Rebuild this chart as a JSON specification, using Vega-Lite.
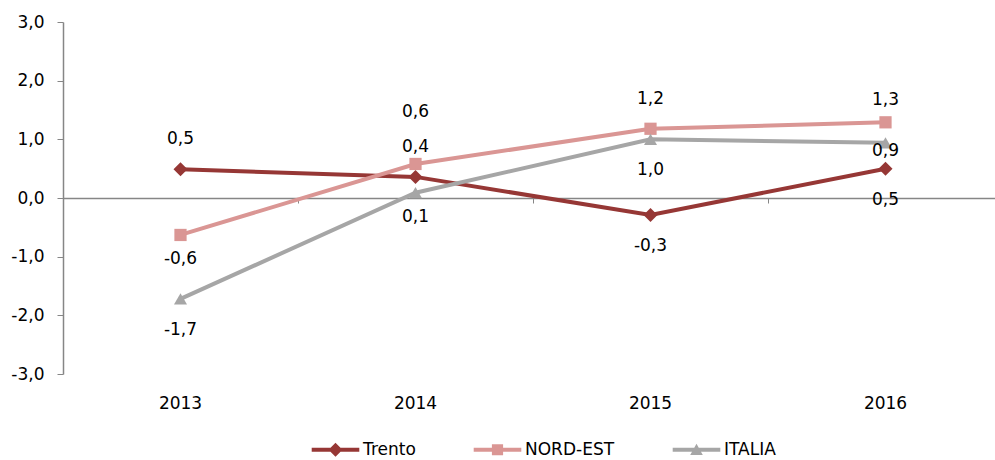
{
  "$schema": "https://vega.github.io/schema/vega-lite/v6.json",
  "autosize": "none",
  "padding": {"left": 63, "top": 22, "right": 0, "bottom": 86},
  "width": 940,
  "height": 352,
  "config": {
    "view": {"stroke": null},
    "font": "DejaVu Sans",
    "locale": {"number": {"decimal": ",", "thousands": ".", "grouping": [3], "currency": ["", " €"], "minus": "-"}}
  },
  "data": {"values": [
    {"series": "Trento", "year": "2013", "value": 0.49},
    {"series": "Trento", "year": "2014", "value": 0.36},
    {"series": "Trento", "year": "2015", "value": -0.29},
    {"series": "Trento", "year": "2016", "value": 0.5},
    {"series": "NORD-EST", "year": "2013", "value": -0.63},
    {"series": "NORD-EST", "year": "2014", "value": 0.58},
    {"series": "NORD-EST", "year": "2015", "value": 1.18},
    {"series": "NORD-EST", "year": "2016", "value": 1.29},
    {"series": "ITALIA", "year": "2013", "value": -1.72},
    {"series": "ITALIA", "year": "2014", "value": 0.09},
    {"series": "ITALIA", "year": "2015", "value": 1.0},
    {"series": "ITALIA", "year": "2016", "value": 0.94}
  ]},
  "resolve": {"axis": {"x": "independent"}},
  "layer": [
    {
      "mark": {"type": "line", "strokeOpacity": 0},
      "encoding": {
        "x": {"field": "year", "type": "ordinal", "scale": {"type": "band", "paddingInner": 0, "paddingOuter": 0},
              "axis": {"orient": "bottom", "offset": -176, "labels": false, "title": null, "grid": false,
                       "domainColor": "#868686", "domainWidth": 1.5, "tickColor": "#868686", "tickSize": 5, "tickBand": "extent"}},
        "y": {"datum": 0, "type": "quantitative", "scale": {"domain": [-3, 3]}}
      }
    },
    {
      "mark": {"type": "line", "strokeWidth": 4},
      "encoding": {
        "x": {"field": "year", "type": "ordinal", "scale": {"type": "band", "paddingInner": 0, "paddingOuter": 0},
              "axis": {"orient": "bottom", "title": null, "domain": false, "ticks": false, "grid": false, "labelAngle": 0,
                       "labelFontSize": 17, "labelColor": "#000000", "labelPadding": 21}},
        "y": {"field": "value", "type": "quantitative", "scale": {"domain": [-3, 3], "nice": false},
              "axis": {"title": null, "values": [-3, -2, -1, 0, 1, 2, 3], "format": ".1f", "gridColor": "#D9D9D9", "gridWidth": 1.3,
                       "domainColor": "#868686", "domainWidth": 1.5, "tickColor": "#868686", "tickSize": 6, "labelPadding": 13,
                       "labelFontSize": 17, "labelColor": "#000000"}},
        "color": {"field": "series", "type": "nominal",
                  "scale": {"domain": ["Trento", "NORD-EST", "ITALIA"], "range": ["#963735", "#DA9694", "#A6A6A6"]},
                  "legend": {"orient": "none", "direction": "horizontal", "legendX": 264, "legendY": 419, "title": null,
                             "padding": 0, "labelFontSize": 17, "labelColor": "#000000", "labelOffset": 19, "columnPadding": 57,
                             "symbolSize": 196, "symbolStrokeWidth": 0,
                             "encode": {"symbols": {"update": {
                               "shape": {"signal": "datum.value === 'Trento' ? 'M-3.4,-0.29H3.4V0.29H-3.4Z M0,-1L1,0L0,1L-1,0Z' : datum.value === 'NORD-EST' ? 'M-3.4,-0.29H3.4V0.29H-3.4Z M-0.8,-0.8H0.8V0.8H-0.8Z' : 'M-3.4,-0.29H3.4V0.29H-3.4Z M0,-0.85L0.9,0.75H-0.9Z'"},
                               "fill": {"signal": "scale('color', datum.value)"},
                               "fillOpacity": {"value": 1},
                               "strokeWidth": {"value": 0},
                               "size": {"value": 196}}}}}}
      }
    },
    {
      "transform": [{"filter": "datum.series === 'Trento'"}],
      "mark": {"type": "point", "filled": true, "opacity": 1, "shape": "diamond", "size": 196},
      "encoding": {
        "x": {"field": "year", "type": "ordinal", "axis": null},
        "y": {"field": "value", "type": "quantitative"},
        "color": {"field": "series", "type": "nominal"}
      }
    },
    {
      "transform": [{"filter": "datum.series === 'NORD-EST'"}],
      "mark": {"type": "point", "filled": true, "opacity": 1, "shape": "square", "size": 150},
      "encoding": {
        "x": {"field": "year", "type": "ordinal", "axis": null},
        "y": {"field": "value", "type": "quantitative"},
        "color": {"field": "series", "type": "nominal"}
      }
    },
    {
      "transform": [{"filter": "datum.series === 'ITALIA'"}],
      "mark": {"type": "point", "filled": true, "opacity": 1, "shape": "triangle-up", "size": 170},
      "encoding": {
        "x": {"field": "year", "type": "ordinal", "axis": null},
        "y": {"field": "value", "type": "quantitative"},
        "color": {"field": "series", "type": "nominal"}
      }
    },
    {
      "transform": [{"filter": "(datum.series === 'Trento' && (datum.year === '2013' || datum.year === '2014')) || (datum.series === 'NORD-EST' && datum.year === '2015')"}],
      "mark": {"type": "text", "dy": -30, "fontSize": 17, "color": "#000000"},
      "encoding": {"x": {"field": "year", "type": "ordinal", "axis": null}, "y": {"field": "value", "type": "quantitative"}, "text": {"field": "value", "type": "quantitative", "format": ".1f"}}
    },
    {
      "transform": [{"filter": "datum.series === 'NORD-EST' && datum.year === '2014'"}],
      "mark": {"type": "text", "dy": -52, "fontSize": 17, "color": "#000000"},
      "encoding": {"x": {"field": "year", "type": "ordinal", "axis": null}, "y": {"field": "value", "type": "quantitative"}, "text": {"field": "value", "type": "quantitative", "format": ".1f"}}
    },
    {
      "transform": [{"filter": "datum.series === 'NORD-EST' && datum.year === '2016'"}],
      "mark": {"type": "text", "dy": -22, "fontSize": 17, "color": "#000000"},
      "encoding": {"x": {"field": "year", "type": "ordinal", "axis": null}, "y": {"field": "value", "type": "quantitative"}, "text": {"field": "value", "type": "quantitative", "format": ".1f"}}
    },
    {
      "transform": [{"filter": "(datum.series === 'Trento' && (datum.year === '2015' || datum.year === '2016')) || (datum.series === 'ITALIA' && (datum.year === '2013' || datum.year === '2015'))"}],
      "mark": {"type": "text", "dy": 31, "fontSize": 17, "color": "#000000"},
      "encoding": {"x": {"field": "year", "type": "ordinal", "axis": null}, "y": {"field": "value", "type": "quantitative"}, "text": {"field": "value", "type": "quantitative", "format": ".1f"}}
    },
    {
      "transform": [{"filter": "(datum.series === 'NORD-EST' && datum.year === '2013') || (datum.series === 'ITALIA' && datum.year === '2014')"}],
      "mark": {"type": "text", "dy": 24, "fontSize": 17, "color": "#000000"},
      "encoding": {"x": {"field": "year", "type": "ordinal", "axis": null}, "y": {"field": "value", "type": "quantitative"}, "text": {"field": "value", "type": "quantitative", "format": ".1f"}}
    },
    {
      "transform": [{"filter": "datum.series === 'ITALIA' && datum.year === '2016'"}],
      "mark": {"type": "text", "dy": 8, "fontSize": 17, "color": "#000000"},
      "encoding": {"x": {"field": "year", "type": "ordinal", "axis": null}, "y": {"field": "value", "type": "quantitative"}, "text": {"field": "value", "type": "quantitative", "format": ".1f"}}
    }
  ]
}
